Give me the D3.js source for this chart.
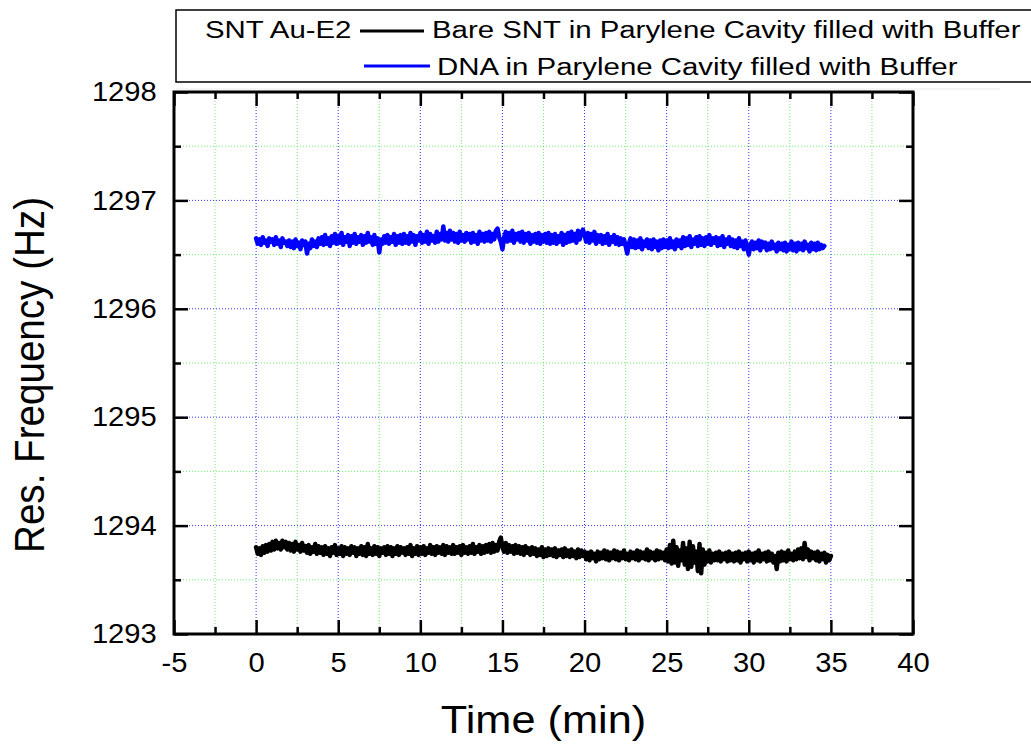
<!DOCTYPE html>
<html>
<head>
<meta charset="utf-8">
<script src="https://cdn.jsdelivr.net/npm/d3@7"></script>
<style>
  html, body { margin: 0; padding: 0; background: #fff; }
  svg { display: block; }
  text { font-family: "Liberation Sans", Arial, sans-serif; fill: #000; }
</style>
</head>
<body>
<svg id="chart" width="1031" height="745"></svg>
<script>
// ---------- data ----------
const xDomain = [-5, 40];
const yDomain = [1293, 1298];
const xMajorTicks = [-5, 0, 5, 10, 15, 20, 25, 30, 35, 40];
const xMinorTicks = [-2.5, 2.5, 7.5, 12.5, 17.5, 22.5, 27.5, 32.5, 37.5];
const yMajorTicks = [1293, 1294, 1295, 1296, 1297, 1298];
const yMinorTicks = [1293.5, 1294.5, 1295.5, 1296.5, 1297.5];

const xTitle = "Time (min)";
const yTitle = "Res. Frequency (Hz)";
const legendHeader = "SNT Au-E2";
const seriesNames = ["Bare SNT in Parylene Cavity filled with Buffer", "DNA in Parylene Cavity filled with Buffer"];
const seriesColors = ["#000000", "#0000ff"];

// sampling: start time 0 min, one reading every 0.1 min
const sampleStart = 0;
const sampleStep = 0.1;

// Bare SNT, t = 0 ... 35.0 min (one row = 1 min)
const bareSNT = [
  1293.80,1293.74,1293.79,1293.73,1293.81,1293.75,1293.82,1293.76,1293.83,1293.77,
  1293.85,1293.78,1293.86,1293.79,1293.84,1293.78,1293.86,1293.80,1293.85,1293.78,
  1293.84,1293.77,1293.83,1293.76,1293.85,1293.78,1293.82,1293.76,1293.84,1293.77,
  1293.81,1293.75,1293.82,1293.74,1293.80,1293.76,1293.83,1293.74,1293.81,1293.75,
  1293.80,1293.73,1293.81,1293.74,1293.79,1293.72,1293.80,1293.75,1293.82,1293.73,
  1293.79,1293.74,1293.81,1293.72,1293.80,1293.74,1293.79,1293.73,1293.81,1293.75,
  1293.80,1293.72,1293.79,1293.74,1293.81,1293.73,1293.80,1293.72,1293.83,1293.74,
  1293.79,1293.73,1293.81,1293.74,1293.80,1293.72,1293.79,1293.75,1293.80,1293.73,
  1293.81,1293.74,1293.80,1293.72,1293.79,1293.74,1293.81,1293.73,1293.80,1293.75,
  1293.79,1293.73,1293.80,1293.74,1293.82,1293.72,1293.79,1293.74,1293.81,1293.73,
  1293.80,1293.74,1293.81,1293.73,1293.79,1293.75,1293.82,1293.74,1293.80,1293.73,
  1293.81,1293.75,1293.80,1293.74,1293.82,1293.73,1293.81,1293.75,1293.80,1293.74,
  1293.82,1293.74,1293.80,1293.75,1293.81,1293.73,1293.82,1293.75,1293.80,1293.74,
  1293.81,1293.75,1293.83,1293.74,1293.80,1293.76,1293.82,1293.74,1293.81,1293.75,
  1293.82,1293.76,1293.83,1293.75,1293.84,1293.76,1293.82,1293.77,1293.85,1293.89,
  1293.80,1293.76,1293.84,1293.75,1293.82,1293.76,1293.81,1293.74,1293.82,1293.75,
  1293.81,1293.74,1293.80,1293.73,1293.81,1293.75,1293.79,1293.73,1293.80,1293.74,
  1293.79,1293.72,1293.78,1293.73,1293.80,1293.71,1293.78,1293.72,1293.79,1293.73,
  1293.78,1293.72,1293.79,1293.71,1293.77,1293.73,1293.78,1293.71,1293.79,1293.72,
  1293.77,1293.71,1293.78,1293.72,1293.76,1293.70,1293.78,1293.71,1293.77,1293.72,
  1293.76,1293.69,1293.75,1293.68,1293.76,1293.70,1293.74,1293.67,1293.76,1293.69,
  1293.75,1293.70,1293.77,1293.69,1293.76,1293.68,1293.75,1293.70,1293.77,1293.69,
  1293.76,1293.68,1293.75,1293.70,1293.77,1293.69,1293.74,1293.68,1293.76,1293.70,
  1293.75,1293.69,1293.77,1293.68,1293.76,1293.70,1293.75,1293.69,1293.78,1293.68,
  1293.76,1293.70,1293.75,1293.68,1293.77,1293.69,1293.76,1293.70,1293.75,1293.68,
  1293.78,1293.67,1293.82,1293.65,1293.86,1293.66,1293.80,1293.63,1293.77,1293.68,
  1293.84,1293.64,1293.79,1293.60,1293.85,1293.62,1293.81,1293.66,1293.76,1293.58,
  1293.83,1293.56,1293.78,1293.64,1293.75,1293.67,1293.77,1293.66,1293.74,1293.68,
  1293.75,1293.68,1293.76,1293.67,1293.74,1293.69,1293.75,1293.67,1293.76,1293.68,
  1293.74,1293.67,1293.75,1293.68,1293.76,1293.66,1293.74,1293.69,1293.75,1293.67,
  1293.76,1293.68,1293.74,1293.66,1293.75,1293.68,1293.77,1293.67,1293.74,1293.69,
  1293.75,1293.67,1293.76,1293.68,1293.74,1293.66,1293.72,1293.60,1293.75,1293.67,
  1293.76,1293.68,1293.75,1293.67,1293.77,1293.69,1293.74,1293.68,1293.76,1293.69,
  1293.78,1293.70,1293.79,1293.69,1293.84,1293.71,1293.78,1293.68,1293.76,1293.70,
  1293.75,1293.68,1293.76,1293.67,1293.74,1293.69,1293.75,1293.66,1293.73,1293.68,
  1293.72
];

// DNA, t = 0 ... 34.6 min (one row = 1 min)
const dnaSNT = [
  1296.65,1296.60,1296.64,1296.59,1296.66,1296.61,1296.63,1296.58,1296.65,1296.62,
  1296.64,1296.59,1296.66,1296.60,1296.63,1296.57,1296.65,1296.61,1296.62,1296.58,
  1296.63,1296.57,1296.62,1296.56,1296.64,1296.58,1296.61,1296.55,1296.63,1296.59,
  1296.62,1296.51,1296.60,1296.56,1296.64,1296.58,1296.62,1296.57,1296.65,1296.60,
  1296.66,1296.59,1296.68,1296.60,1296.65,1296.58,1296.67,1296.61,1296.69,1296.60,
  1296.67,1296.61,1296.70,1296.59,1296.66,1296.62,1296.68,1296.58,1296.67,1296.61,
  1296.69,1296.60,1296.66,1296.62,1296.68,1296.59,1296.67,1296.61,1296.70,1296.62,
  1296.66,1296.59,1296.68,1296.60,1296.65,1296.52,1296.64,1296.60,1296.67,1296.61,
  1296.68,1296.60,1296.66,1296.62,1296.69,1296.59,1296.67,1296.61,1296.68,1296.60,
  1296.69,1296.61,1296.67,1296.60,1296.70,1296.62,1296.68,1296.59,1296.67,1296.63,
  1296.70,1296.61,1296.68,1296.62,1296.71,1296.60,1296.69,1296.63,1296.67,1296.61,
  1296.71,1296.62,1296.69,1296.64,1296.76,1296.63,1296.70,1296.62,1296.72,1296.64,
  1296.70,1296.62,1296.69,1296.61,1296.71,1296.63,1296.68,1296.62,1296.70,1296.64,
  1296.69,1296.61,1296.70,1296.62,1296.68,1296.60,1296.71,1296.63,1296.69,1296.62,
  1296.70,1296.63,1296.71,1296.62,1296.69,1296.64,1296.72,1296.74,1296.66,1296.62,
  1296.55,1296.66,1296.71,1296.62,1296.70,1296.63,1296.72,1296.61,1296.69,1296.64,
  1296.70,1296.62,1296.71,1296.61,1296.69,1296.63,1296.70,1296.60,1296.68,1296.62,
  1296.69,1296.61,1296.70,1296.60,1296.68,1296.62,1296.69,1296.61,1296.70,1296.60,
  1296.68,1296.61,1296.69,1296.60,1296.67,1296.62,1296.70,1296.59,1296.68,1296.61,
  1296.70,1296.62,1296.71,1296.63,1296.69,1296.61,1296.72,1296.64,1296.70,1296.73,
  1296.68,1296.62,1296.70,1296.61,1296.69,1296.63,1296.71,1296.60,1296.68,1296.62,
  1296.68,1296.60,1296.67,1296.61,1296.69,1296.59,1296.66,1296.62,1296.68,1296.60,
  1296.66,1296.59,1296.65,1296.60,1296.64,1296.58,1296.51,1296.60,1296.65,1296.57,
  1296.64,1296.56,1296.63,1296.57,1296.65,1296.55,1296.62,1296.58,1296.64,1296.56,
  1296.63,1296.55,1296.64,1296.57,1296.62,1296.54,1296.63,1296.56,1296.64,1296.57,
  1296.63,1296.56,1296.65,1296.57,1296.62,1296.55,1296.64,1296.58,1296.63,1296.56,
  1296.66,1296.58,1296.65,1296.59,1296.67,1296.57,1296.64,1296.60,1296.66,1296.58,
  1296.67,1296.59,1296.65,1296.58,1296.66,1296.60,1296.68,1296.59,1296.65,1296.61,
  1296.66,1296.58,1296.65,1296.59,1296.67,1296.57,1296.64,1296.60,1296.66,1296.58,
  1296.64,1296.57,1296.63,1296.56,1296.65,1296.58,1296.62,1296.55,1296.63,1296.57,
  1296.50,1296.59,1296.62,1296.55,1296.61,1296.56,1296.63,1296.54,1296.62,1296.57,
  1296.61,1296.54,1296.60,1296.55,1296.62,1296.56,1296.59,1296.53,1296.61,1296.55,
  1296.60,1296.54,1296.61,1296.53,1296.59,1296.55,1296.62,1296.54,1296.60,1296.53,
  1296.61,1296.55,1296.60,1296.54,1296.62,1296.56,1296.59,1296.53,1296.61,1296.55,
  1296.60,1296.54,1296.61,1296.55,1296.59,1296.56,1296.58
];

// ---------- layout ----------
const plot = { left: 174, right: 913, top: 92, bottom: 634 };
const svg = d3.select("#chart");

const x = d3.scaleLinear().domain(xDomain).range([plot.left, plot.right]);
const y = d3.scaleLinear().domain(yDomain).range([plot.bottom, plot.top]);

// ---------- grid ----------
const grid = svg.append("g");
grid.selectAll(".gxm").data(xMinorTicks).join("line")
  .attr("x1", d => x(d)).attr("x2", d => x(d))
  .attr("y1", plot.top).attr("y2", plot.bottom)
  .attr("stroke", "#33e633").attr("stroke-width", 1).attr("stroke-dasharray", "1 2").attr("opacity", 0.7);
grid.selectAll(".gym").data(yMinorTicks).join("line")
  .attr("y1", d => y(d)).attr("y2", d => y(d))
  .attr("x1", plot.left).attr("x2", plot.right)
  .attr("stroke", "#33e633").attr("stroke-width", 1).attr("stroke-dasharray", "1 2").attr("opacity", 0.7);
grid.selectAll(".gxM").data(xMajorTicks.slice(1, -1)).join("line")
  .attr("x1", d => x(d)).attr("x2", d => x(d))
  .attr("y1", plot.top).attr("y2", plot.bottom)
  .attr("stroke", "#0000ff").attr("stroke-width", 1).attr("stroke-dasharray", "1 2").attr("opacity", 0.8);
grid.selectAll(".gyM").data(yMajorTicks.slice(1, -1)).join("line")
  .attr("y1", d => y(d)).attr("y2", d => y(d))
  .attr("x1", plot.left).attr("x2", plot.right)
  .attr("stroke", "#0000ff").attr("stroke-width", 1).attr("stroke-dasharray", "1 2").attr("opacity", 0.8);

// ---------- data lines ----------
svg.append("clipPath").attr("id", "clip").append("rect")
  .attr("x", plot.left).attr("y", plot.top)
  .attr("width", plot.right - plot.left).attr("height", plot.bottom - plot.top);

const line = d3.line()
  .x((d, i) => x(sampleStart + i * sampleStep))
  .y(d => y(d));

[bareSNT, dnaSNT].forEach((vals, k) => {
  svg.append("path")
    .datum(vals)
    .attr("clip-path", "url(#clip)")
    .attr("fill", "none")
    .attr("stroke", seriesColors[k])
    .attr("stroke-width", 4.5)
    .attr("stroke-linejoin", "round")
    .attr("stroke-linecap", "round")
    .attr("d", line);
});

// ---------- axes ----------
const tickFont = 27;
const tickStretch = 1.08;
const fmt = d => String(d);
function styleAxis(g) {
  g.select(".domain").remove();
  g.selectAll(".tick line").attr("stroke", "#000").attr("stroke-width", 2.5);
  g.selectAll(".tick text")
    .attr("font-size", tickFont)
    .attr("font-family", '"Liberation Sans", Arial, sans-serif');
}

// bottom
svg.append("g").attr("transform", `translate(0,${plot.bottom})`)
  .call(d3.axisBottom(x).tickValues(xMinorTicks).tickSize(-7).tickFormat(""))
  .call(styleAxis);
const bottomAxis = svg.append("g").attr("transform", `translate(0,${plot.bottom})`)
  .call(d3.axisBottom(x).tickValues(xMajorTicks).tickSize(-14).tickPadding(19).tickFormat(fmt))
  .call(styleAxis);
bottomAxis.selectAll(".tick text").attr("transform", `scale(${tickStretch},1)`);

// top
svg.append("g").attr("transform", `translate(0,${plot.top})`)
  .call(d3.axisTop(x).tickValues(xMinorTicks).tickSize(-7).tickFormat(""))
  .call(styleAxis);
svg.append("g").attr("transform", `translate(0,${plot.top})`)
  .call(d3.axisTop(x).tickValues(xMajorTicks).tickSize(-14).tickFormat(""))
  .call(styleAxis);

// left
svg.append("g").attr("transform", `translate(${plot.left},0)`)
  .call(d3.axisLeft(y).tickValues(yMinorTicks).tickSize(-7).tickFormat(""))
  .call(styleAxis);
const leftAxis = svg.append("g").attr("transform", `translate(${plot.left},0)`)
  .call(d3.axisLeft(y).tickValues(yMajorTicks).tickSize(-14).tickPadding(16).tickFormat(fmt))
  .call(styleAxis);
leftAxis.selectAll(".tick text").attr("transform", `scale(${tickStretch},1)`);

// right
svg.append("g").attr("transform", `translate(${plot.right},0)`)
  .call(d3.axisRight(y).tickValues(yMinorTicks).tickSize(-7).tickFormat(""))
  .call(styleAxis);
svg.append("g").attr("transform", `translate(${plot.right},0)`)
  .call(d3.axisRight(y).tickValues(yMajorTicks).tickSize(-14).tickFormat(""))
  .call(styleAxis);

// frame
svg.append("rect")
  .attr("x", plot.left).attr("y", plot.top)
  .attr("width", plot.right - plot.left).attr("height", plot.bottom - plot.top)
  .attr("fill", "none").attr("stroke", "#000").attr("stroke-width", 3);

// ---------- axis titles ----------
svg.append("text")
  .attr("transform", `translate(${(plot.left + plot.right) / 2},733) scale(1.14,1)`)
  .attr("text-anchor", "middle")
  .attr("font-size", 38)
  .text(xTitle);

svg.append("text")
  .attr("transform", `translate(44,375) scale(1.12,1) rotate(-90)`)
  .attr("text-anchor", "middle")
  .attr("font-size", 38.6)
  .text(yTitle);

// ---------- legend ----------
const legend = svg.append("g");
legend.append("line")
  .attr("x1", 176).attr("x2", 1000).attr("y1", 89).attr("y2", 89)
  .attr("stroke", "#ececec").attr("stroke-width", 1);
legend.append("rect")
  .attr("x", 176).attr("y", 10).attr("width", 900).attr("height", 72)
  .attr("fill", "#fff").attr("stroke", "#000").attr("stroke-width", 1.5);

const legFont = 24.5;
const legStretch = 1.2;
legend.append("text")
  .attr("transform", `translate(205,38) scale(${legStretch},1)`)
  .attr("font-size", legFont)
  .text(legendHeader);

const legRows = [
  { x1: 360, x2: 424, ly: 31, tx: 432, ty: 38 },
  { x1: 364, x2: 430, ly: 66, tx: 437, ty: 75 }
];
legRows.forEach((r, k) => {
  legend.append("line")
    .attr("x1", r.x1).attr("x2", r.x2).attr("y1", r.ly).attr("y2", r.ly)
    .attr("stroke", seriesColors[k]).attr("stroke-width", 3);
  legend.append("text")
    .attr("transform", `translate(${r.tx},${r.ty}) scale(${legStretch},1)`)
    .attr("font-size", legFont)
    .text(seriesNames[k]);
});
</script>
</body>
</html>
